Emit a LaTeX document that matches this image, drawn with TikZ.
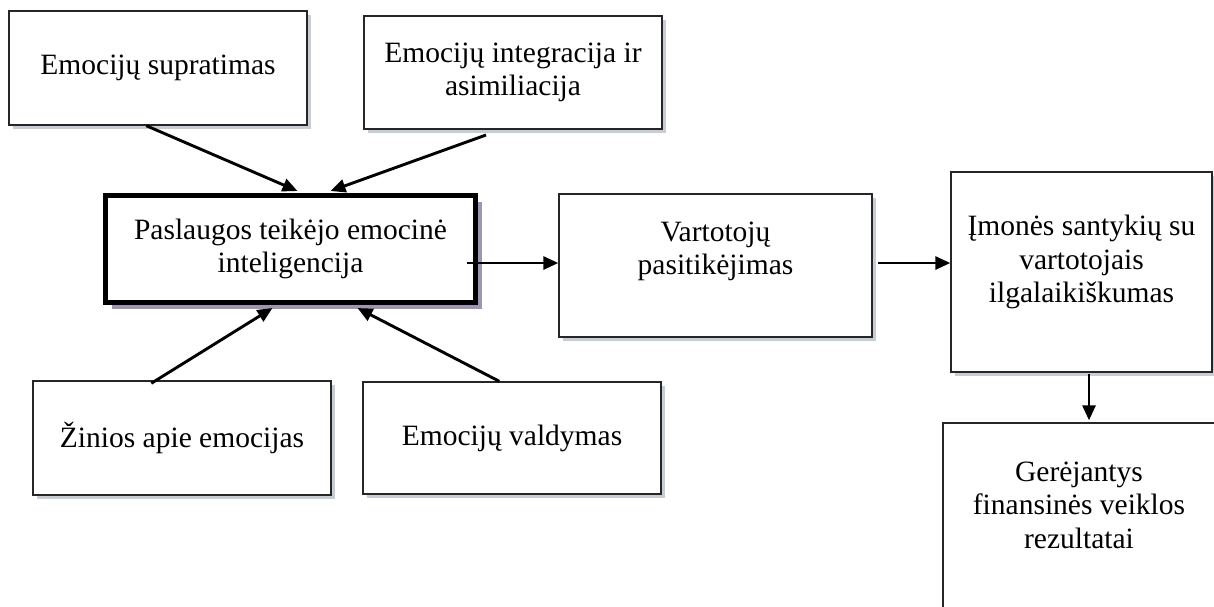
\documentclass[tikz,border=0pt]{standalone}
\usepackage{fontspec}
\setmainfont{Liberation Serif}
\usetikzlibrary{arrows.meta,shadows,calc}
\definecolor{shade}{RGB}{200,204,212}
\definecolor{shadeC}{RGB}{158,150,176}
\begin{document}
\begin{tikzpicture}[x=1pt,y=-1pt,
  txt/.style={inner sep=0pt, align=center, font=\fontsize{29.5}{33.5}\selectfont},
  frame/.style={txt, rectangle, fill=white},
  box/.style={frame, draw=black!85, line width=1.4pt,
    drop shadow={shadow xshift=4pt, shadow yshift=-4pt, fill=shade, opacity=1}},
  mainbox/.style={frame, draw=black, line width=5pt,
    drop shadow={shadow xshift=6pt, shadow yshift=-6pt, fill=shadeC, opacity=1}},
  conn/.style={line width=2.9pt, -{Triangle[length=15pt,width=13pt]}}]
\useasboundingbox (0,0) rectangle (1214,606);
\clip (0,0) rectangle (1214,606);

% boxes
\node[box, minimum width=298pt, minimum height=114pt] (sup) at (158,68) {Emocijų supratimas};
\node[box, minimum width=298pt, minimum height=113pt] (int) at (513,72.5) {Emocijų integracija ir\\asimiliacija};
\node[mainbox, minimum width=370pt, minimum height=107pt] (ei) at (290.5,249) {Paslaugos teikėjo emocinė\\inteligencija};
\node[box, minimum width=298pt, minimum height=114pt] (zin) at (182,438) {Žinios apie emocijas};
\node[box, minimum width=298pt, minimum height=112pt] (val) at (512,438) {Emocijų valdymas};
\node[box, minimum width=313pt, minimum height=143pt] (pas) at (715.5,265.5) {};
\node[box, minimum width=261pt, minimum height=200pt] (ilg) at (1081.5,272) {};
\node[box, minimum width=272pt, minimum height=217pt] (fin) at (1079,531.5) {};

% texts placed near the top of the tall boxes
\node[txt, anchor=north] (pasT) at ($(pas.north)+(0,28)$) {Vartotojų\\pasitikėjimas};
\node[txt, anchor=north] (ilgT) at ($(ilg.north)+(0,44)$) {Įmonės santykių su\\vartotojais\\ilgalaikiškumas};
\node[txt, anchor=north] (finT) at ($(fin.north)+(0,39)$) {Gerėjantys\\finansinės veiklos\\rezultatai};

% connector ends
\coordinate (s1) at ($(sup.south west)+(138,0)$);
\coordinate (t1) at ($(ei.north west)+(194.5,-2)$);
\coordinate (s2) at (486,135);
\coordinate (t2) at ($(ei.north west)+(227.5,-2)$);
\coordinate (s3) at ($(zin.north west)+(119,3)$);
\coordinate (t3) at ($(ei.south west)+(169.5,3)$);
\coordinate (s4) at ($(val.north west)+(137,0)$);
\coordinate (t4) at ($(ei.south west)+(254.5,3)$);
\coordinate (s5) at (467,263);
\coordinate (s6) at (878,263);
\coordinate (s7) at (1089,374);

% connectors
\draw[conn] (s1) -- (t1);
\draw[conn] (s2) -- (t2);
\draw[conn] (s3) -- (t3);
\draw[conn] (s4) -- (t4);
\draw[conn] (s5) -- (pas.west |- s5);
\draw[conn] (s6) -- (ilg.west |- s6);
\draw[conn] (s7) -- ($(fin.north -| s7)+(0,-2)$);
\end{tikzpicture}
\end{document}
